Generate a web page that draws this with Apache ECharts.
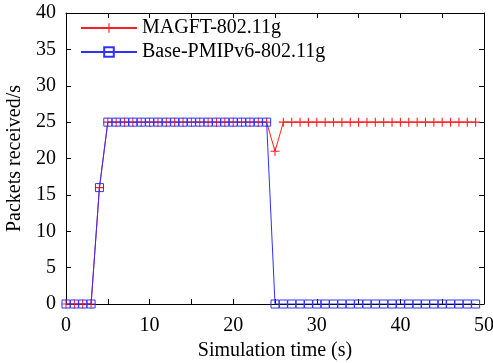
<!DOCTYPE html>
<html><head><meta charset="utf-8">
<script src="https://cdn.jsdelivr.net/npm/echarts@6/dist/echarts.min.js"></script>
<style>html,body{margin:0;padding:0;background:#fff}#c{width:493px;height:363px}</style>
</head><body><div id="c"></div>
<script>
var times = [0,1,2,3,4,5,6,7,8,9,10,11,12,13,14,15,16,17,18,19,20,21,22,23,24,25,26,27,28,29,30,31,32,33,34,35,36,37,38,39,40,41,42,43,44,45,46,47,48,49];
var magft = [0,0,0,0,16,25,25,25,25,25,25,25,25,25,25,25,25,25,25,25,25,25,25,25,25,21,25,25,25,25,25,25,25,25,25,25,25,25,25,25,25,25,25,25,25,25,25,25,25,25];
var basePmip = [0,0,0,0,16,25,25,25,25,25,25,25,25,25,25,25,25,25,25,25,25,25,25,25,25,0,0,0,0,0,0,0,0,0,0,0,0,0,0,0,0,0,0,0,0,0,0,0,0,0];
var seriesNames = ['MAGFT-802.11g','Base-PMIPv6-802.11g'];
var xTickLabels = ['0','10','20','30','40','50'];
var yTickLabels = ['0','5','10','15','20','25','30','35','40'];

function pairs(xs, ys){ return xs.map(function(x,i){return [x, ys[i]];}); }
var plus = 'path://M4.4,0H5.6V4.4H10V5.6H5.6V10H4.4V5.6H0V4.4H4.4Z';
var font = 'Liberation Serif';
var fs = 20;
var chart = echarts.init(document.getElementById('c'));
var axisLine = {show:true, onZero:false, lineStyle:{color:'#000', width:1}};
var tick = {inside:true, length:5, lineStyle:{color:'#000', width:1}};
chart.setOption({
  animation:false,
  backgroundColor:'#fff',
  textStyle:{fontFamily:font},
  grid:{left:66, right:9, top:13, bottom:59, containLabel:false, outerBoundsMode:'none'},
  legend:{
    left:75, top:13, orient:'vertical', itemGap:4, itemWidth:56, itemHeight:12,
    textStyle:{fontFamily:font, fontSize:fs, color:'#000'},
    data:seriesNames
  },
  xAxis:[{
    type:'value', min:0, max:50, interval:5,
    name:'Simulation time (s)', nameLocation:'middle', nameGap:34,
    nameTextStyle:{fontFamily:font, fontSize:fs, color:'#000'},
    axisLine:axisLine, splitLine:{show:false}, axisTick:tick,
    axisLabel:{fontFamily:font, fontSize:fs, color:'#000', margin:12,
      formatter:function(v){ var s=String(v); return xTickLabels.indexOf(s)>=0 ? s : ''; }}
  },{
    type:'value', position:'top', min:0, max:50, interval:5,
    axisLine:axisLine, splitLine:{show:false}, axisTick:tick,
    axisLabel:{show:false}
  }],
  yAxis:[{
    type:'value', min:0, max:40, interval:5,
    name:'Packets received/s', nameLocation:'middle', nameGap:34,
    nameTextStyle:{fontFamily:font, fontSize:fs, color:'#000'},
    axisLine:axisLine, splitLine:{show:false}, axisTick:tick,
    axisLabel:{fontFamily:font, fontSize:fs, color:'#000', margin:10,
      formatter:function(v){ var s=String(v); return yTickLabels.indexOf(s)>=0 ? s : ''; }}
  },{
    type:'value', position:'right', min:0, max:40, interval:5,
    axisLine:axisLine, splitLine:{show:false}, axisTick:tick,
    axisLabel:{show:false}
  }],
  series:[{
    name:seriesNames[0], type:'line', data:pairs(times, magft),
    symbol:plus, symbolSize:9, showAllSymbol:true, z:2,
    lineStyle:{color:'#ff2020', width:1},
    itemStyle:{color:'#ff2020'}
  },{
    name:seriesNames[1], type:'line', data:pairs(times, basePmip),
    symbol:'rect', symbolSize:8, showAllSymbol:true, z:3,
    lineStyle:{color:'#3030ff', width:1},
    itemStyle:{color:'rgba(0,0,0,0)', borderColor:'#3030ff', borderWidth:1}
  }]
});
</script></body></html>
